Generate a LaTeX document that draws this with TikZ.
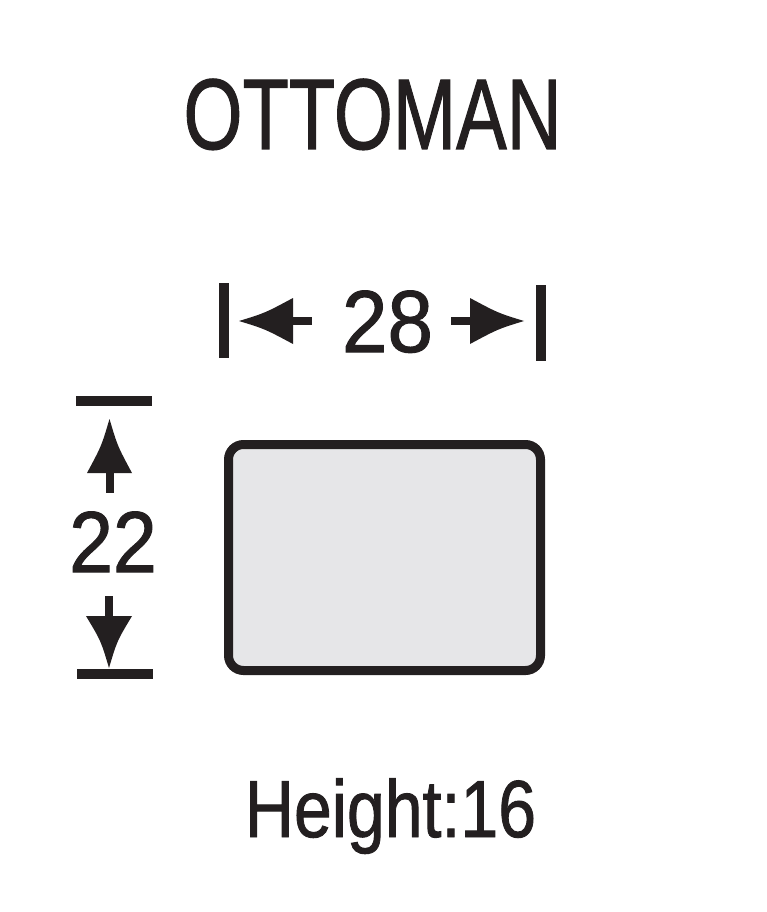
\documentclass[tikz,border=0pt]{standalone}
\usepackage{fontspec}
\setmainfont{Liberation Sans}[FakeBold=1.2]
\definecolor{ink}{HTML}{231F20}
\definecolor{seatfill}{HTML}{E6E6E8}
\begin{document}
\begin{tikzpicture}[x=1pt,y=-1pt,
  lbl/.style={anchor=base,inner sep=0,outer sep=0,text=ink},
  bar/.style={draw=ink,line width=10pt},
  stem/.style={draw=ink,line width=8pt},
  head/.style={fill=ink,draw=none}]
\useasboundingbox (0,0) rectangle (766,912);
% title
\node[lbl] (title) at (372.5,149) {\scalebox{0.755}[1]{\fontsize{100.5}{100}\selectfont OTTOMAN}};
% seat
\node[draw=ink,fill=seatfill,line width=9pt,rounded corners=15pt,minimum width=312pt,minimum height=226pt,inner sep=0,outer sep=0] (seat) at (384.5,557.5) {};
% width dimension
\node[lbl] (w) at (387.5,352) {\scalebox{0.93}[1]{\fontsize{88}{88}\selectfont 28}};
\coordinate (wl1) at (224,283); \coordinate (wl2) at (224,358);
\coordinate (wr1) at (541,285); \coordinate (wr2) at (541,361);
\draw[bar] (wl1) -- (wl2);
\draw[bar] (wr1) -- (wr2);
\coordinate (lt) at (239,321); \coordinate (lb) at (293,321); \coordinate (ls) at (312,321);
\draw[stem] (lb) -- (ls);
\fill[head] (lt) .. controls (265,313) .. (293,298) -- (293,344) .. controls (265,329) .. (lt);
\coordinate (rt) at (524,321); \coordinate (rb) at (470,321); \coordinate (rs) at (451,321);
\draw[stem] (rs) -- (rb);
\fill[head] (rt) .. controls (498,313) .. (470,298) -- (470,344) .. controls (498,329) .. (rt);
% depth dimension
\node[lbl] (d) at (113,572) {\scalebox{0.91}[1]{\fontsize{86.6}{86}\selectfont 22}};
\coordinate (dt1) at (76,401); \coordinate (dt2) at (152,401);
\coordinate (db1) at (77,674); \coordinate (db2) at (153,674);
\draw[bar] (dt1) -- (dt2);
\draw[bar] (db1) -- (db2);
\coordinate (ut) at (109.5,419); \coordinate (ub) at (109.5,473); \coordinate (us) at (109.5,493);
\draw[stem] (ub) -- (us);
\fill[head] (ut) .. controls (101.5,446) .. (87,473) -- (132,473) .. controls (117.5,446) .. (ut);
\coordinate (dtp) at (109,668); \coordinate (dbs) at (109,616); \coordinate (dss) at (109,596);
\draw[stem] (dss) -- (dbs);
\fill[head] (dtp) .. controls (101,641) .. (86,616) -- (132,616) .. controls (117,641) .. (dtp);
% height
\node[lbl] (h) at (390.5,837) {\scalebox{0.84}[1]{\fontsize{81}{81}\selectfont Height:16}};
\end{tikzpicture}
\end{document}
